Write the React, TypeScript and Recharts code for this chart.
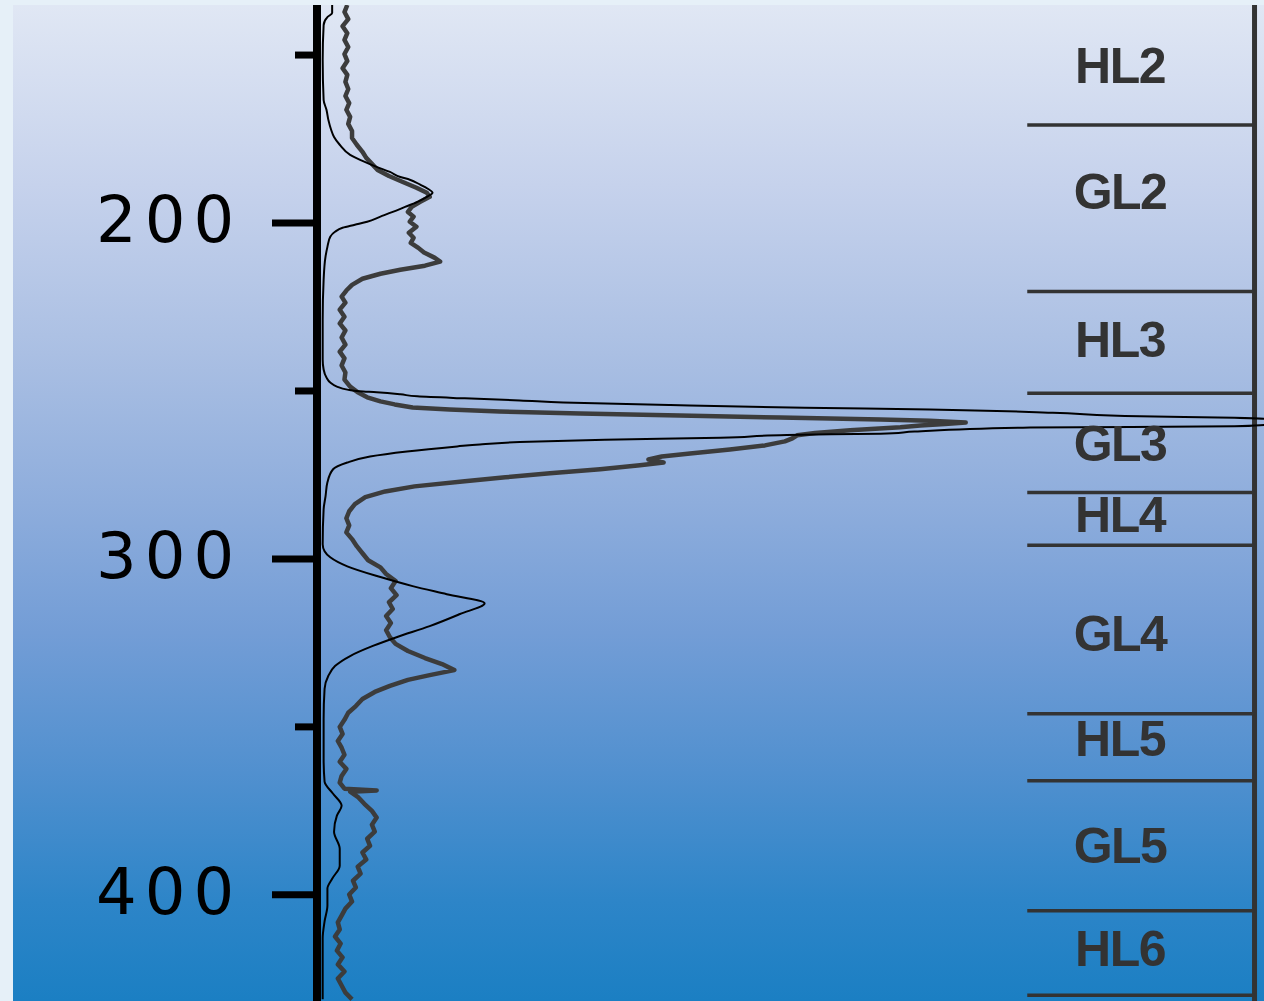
import { ComposedChart, Line, XAxis, YAxis, ReferenceLine, ReferenceDot } from 'recharts';

// depth (nm) vs relative signal
const modelCurve: [number, number][] = [
  [135.1, 1.6], [137.5, 1.6], [138.7, 1.1], [141.1, 0.7], [151.5, 0.6], [163.4, 0.7],
  [166.3, 1.0], [169.3, 1.2], [172.3, 1.5], [174.4, 1.8], [176.7, 2.4], [179.7, 3.5],
  [181.5, 4.8], [183.3, 6.3], [184.8, 7.7], [186.3, 8.8], [187.1, 9.8], [188.6, 10.9],
  [189.8, 11.7], [191.0, 12.2], [192.2, 11.6], [193.7, 10.6], [195.2, 9.3], [196.7, 8.0],
  [198.1, 6.7], [199.6, 5.3], [200.5, 4.0], [201.4, 2.7], [202.6, 1.9], [204.1, 1.4],
  [207.1, 1.1], [210.0, 0.9], [216.9, 0.7], [228.8, 0.6], [240.6, 0.6], [243.6, 0.7],
  [246.0, 1.0], [247.5, 1.4], [248.7, 2.1], [249.6, 3.2], [250.1, 4.5], [250.4, 6.3],
  [251.0, 8.8], [251.6, 10.6], [252.2, 15.6], [252.8, 21.4], [253.4, 26.0], [254.2, 37.3],
  [255.0, 51.5], [255.5, 64.7], [256.5, 77.7], [257.5, 86.9], [258.0, 96.9], [258.3, 100],
  [259.2, 102.5], [260.1, 100], [260.5, 96.9], [260.9, 75.3], [262.1, 63.1], [262.7, 59.5],
  [263.1, 49.6], [263.9, 42.6], [264.5, 30.4], [265.2, 21.4], [265.9, 17.2], [266.5, 14.8],
  [268.0, 9.5], [269.5, 5.6], [271.3, 3.2], [273.3, 1.7], [277.2, 1.1], [281.4, 0.9],
  [285.2, 0.7], [295.6, 0.6], [297.7, 0.8], [299.5, 1.4], [302.2, 3.2], [305.4, 6.7],
  [308.1, 10.1], [310.5, 13.7], [313.2, 17.7], [316.4, 15.1], [320.0, 11.9], [323.3, 8.4],
  [325.9, 5.9], [328.9, 3.5], [331.9, 1.9], [334.8, 1.2], [338.7, 0.8], [347.6, 0.7],
  [359.5, 0.7], [366.3, 0.8], [369.9, 1.7], [373.5, 2.6], [376.4, 2.1], [381.2, 1.8],
  [386.3, 2.4], [391.3, 2.4], [395.2, 1.6], [398.1, 1.1], [403.2, 1.1], [407.9, 0.8],
  [413.0, 0.6], [431.1, 0.6],
];

const measuredCurve: [number, number][] = [
  [135.1, 3.2], [137.2, 2.9], [139.3, 3.3], [141.4, 2.7], [143.5, 3.2], [145.5, 2.9],
  [147.6, 3.3], [149.7, 2.9], [151.8, 3.2], [153.9, 2.7], [155.9, 3.2], [158.0, 3.0],
  [160.1, 3.3], [162.2, 3.0], [164.3, 3.4], [166.3, 3.1], [168.4, 3.5], [170.5, 3.3],
  [172.6, 3.7], [174.7, 3.7], [176.7, 4.2], [178.8, 4.8], [180.6, 5.2], [182.4, 5.8],
  [184.2, 6.4], [186.0, 7.6], [187.7, 9.0], [189.5, 10.5], [191.0, 11.6], [192.2, 11.9],
  [193.7, 10.9], [195.2, 10.0], [196.7, 9.6], [198.1, 10.2], [199.6, 9.8], [201.1, 10.5],
  [202.9, 9.7], [204.4, 10.2], [205.9, 9.9], [207.4, 10.7], [208.8, 11.3], [210.3, 12.4],
  [211.5, 13.0], [212.7, 11.4], [213.9, 8.8], [215.1, 6.7], [216.6, 4.8], [218.4, 3.7],
  [220.1, 3.1], [221.9, 2.6], [223.7, 3.0], [225.8, 2.4], [227.9, 2.9], [229.9, 2.4],
  [232.0, 3.0], [234.1, 2.6], [236.2, 3.0], [238.3, 2.4], [240.3, 2.9], [242.4, 2.6],
  [244.5, 3.0], [246.6, 2.9], [248.7, 3.5], [250.4, 4.3], [251.9, 5.3], [253.1, 6.7],
  [254.0, 8.2], [254.9, 10.1], [255.5, 14.0], [256.1, 19.3], [256.7, 27.8], [257.3, 38.3],
  [257.9, 48.9], [258.5, 59.5], [258.9, 64.7], [259.4, 68.5], [259.8, 66.3], [260.3, 63.7],
  [260.8, 61.6], [261.7, 56.3], [262.5, 52.6], [263.2, 50.7], [264.1, 50.2], [265.0, 49.4],
  [266.2, 47.3], [267.4, 43.6], [268.6, 39.4], [269.5, 36.4], [270.4, 35.0], [271.3, 36.6],
  [272.1, 34.1], [273.3, 29.9], [274.5, 24.6], [275.7, 19.9], [276.9, 15.6], [278.4, 10.3],
  [279.9, 7.2], [281.6, 5.1], [283.7, 4.0], [285.8, 3.4], [287.9, 3.1], [290.0, 3.4],
  [292.1, 3.1], [294.1, 3.7], [296.2, 4.2], [298.3, 4.8], [300.4, 5.4], [302.5, 6.7],
  [304.5, 7.3], [306.6, 8.3], [308.7, 7.8], [310.8, 8.4], [312.9, 7.6], [314.9, 8.0],
  [317.0, 7.3], [319.1, 7.8], [321.2, 7.3], [323.3, 7.7], [325.3, 8.3], [327.4, 9.6],
  [329.5, 11.4], [331.3, 13.2], [333.1, 14.5], [334.6, 11.9], [336.0, 9.6], [337.8, 7.7],
  [339.6, 6.1], [341.7, 4.8], [343.8, 4.1], [345.8, 3.3], [347.9, 2.9], [350.0, 2.4],
  [352.1, 2.7], [354.2, 2.2], [356.2, 2.6], [358.3, 2.9], [360.4, 2.4], [362.5, 3.1],
  [364.6, 2.6], [366.6, 2.4], [368.4, 2.9], [368.9, 6.3], [369.3, 3.5], [370.8, 4.3],
  [372.9, 5.0], [375.0, 5.8], [377.0, 6.3], [379.1, 5.8], [381.2, 6.1], [383.3, 5.3],
  [385.4, 5.6], [387.4, 4.8], [389.5, 5.2], [391.6, 4.3], [393.7, 4.6], [395.8, 3.8],
  [397.8, 4.1], [399.9, 3.4], [402.0, 3.7], [404.1, 3.0], [406.2, 2.6], [408.2, 2.2],
  [410.3, 2.4], [412.4, 1.9], [414.5, 2.5], [416.6, 2.1], [418.6, 2.7], [420.7, 2.2],
  [422.8, 2.9], [424.9, 2.2], [427.0, 2.6], [429.1, 3.0], [431.1, 3.7],
];

// layer boundaries and names on the right
const layerBounds = [170.8, 220.4, 250.7, 280.2, 295.9, 346.1, 366.0, 404.7, 429.9];
const layerNames = ['HL2', 'GL2', 'HL3', 'GL3', 'HL4', 'GL4', 'HL5', 'GL5', 'HL6'];
const layerLabelDepths = [153.3, 190.7, 234.7, 265.9, 287.0, 322.4, 353.6, 385.4, 416.0];

const depthTicks = [150, 200, 250, 300, 350, 400];
const labelledTicks = [200, 300, 400];

const AXIS_W = 317;

function DepthTick({ y, payload }: any) {
  const major = labelledTicks.includes(payload.value);
  return (
    <g>
      <line x1={major ? AXIS_W - 45 : AXIS_W - 22} x2={AXIS_W} y1={y} y2={y} stroke="#000" strokeWidth={7} />
      {major && (
        <text x={96} y={y + 19} fontFamily="DejaVu Sans" fontSize={64} letterSpacing={8} fill="#000">
          {payload.value}
        </text>
      )}
    </g>
  );
}

export default function App() {
  const modelData = modelCurve.map(([depth, signal]) => ({ depth, signal }));
  const measuredData = measuredCurve.map(([depth, signal]) => ({ depth, signal }));

  return (
    <div style={{ position: 'absolute', left: 0, top: 0, width: 1264, height: 1001, background: '#e6f0f8' }}>
      <div
        style={{
          position: 'absolute',
          left: 13,
          top: 5,
          right: 0,
          bottom: 0,
          background:
            'linear-gradient(to bottom, #e0e7f4 0%, #c6d2ec 18%, #aabfe3 35%, #8eaddc 50%, #739dd6 63%, #5190cf 77%, #2d85c8 90%, #1b7fc3 100%)',
        }}
      />
      <div style={{ position: 'absolute', left: 0, top: 0 }}>
        <ComposedChart width={1264} height={1001} layout="vertical" margin={{ top: 5, right: 0, bottom: 0, left: 0 }}>
          <XAxis type="number" domain={[0, 100]} allowDataOverflow hide />
          <YAxis
            type="number"
            dataKey="depth"
            domain={[135.1, 431.6]}
            allowDataOverflow
            width={AXIS_W}
            ticks={depthTicks}
            interval={0}
            tickLine={false}
            tick={<DepthTick />}
            axisLine={{ stroke: '#000', strokeWidth: 8 }}
          />
          <ReferenceLine x={99} stroke="#333" strokeWidth={5} />
          {layerBounds.map((d) => (
            <ReferenceLine
              key={d}
              segment={[{ x: 75, y: d }, { x: 99, y: d }]}
              stroke="#333"
              strokeWidth={3.5}
            />
          ))}
          {layerNames.map((name, i) => (
            <ReferenceDot
              key={name}
              x={84.8}
              y={layerLabelDepths[i]}
              r={1}
              shape={(p: any) => (
                <text
                  x={p.cx}
                  y={p.cy}
                  textAnchor="middle"
                  dominantBaseline="central"
                  fontFamily="Liberation Sans"
                  fontWeight="bold"
                  fontSize={50}
                  letterSpacing={-1.5}
                  fill="#333"
                >
                  {name}
                </text>
              )}
            />
          ))}
          <Line
            data={measuredData}
            dataKey="signal"
            type="linear"
            stroke="#3c3c3c"
            strokeWidth={4.5}
            strokeLinejoin="round"
            dot={false}
            isAnimationActive={false}
          />
          <Line
            data={modelData}
            dataKey="signal"
            type="monotone"
            stroke="#000"
            strokeWidth={2}
            dot={false}
            isAnimationActive={false}
          />
        </ComposedChart>
      </div>
    </div>
  );
}
